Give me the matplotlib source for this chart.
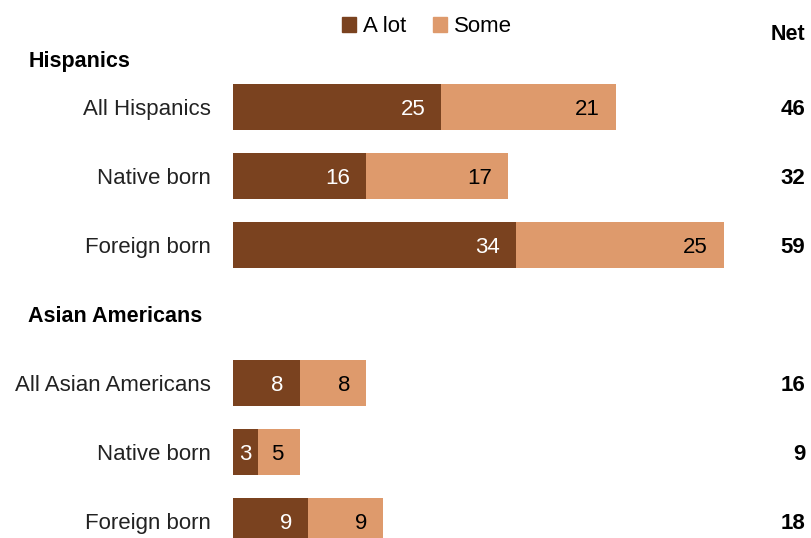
import matplotlib.pyplot as plt
from matplotlib.patches import Patch

plt.rcParams['font.family'] = ['Liberation Sans', 'DejaVu Sans']

# data
groups = ['Hispanics', 'Asian Americans']
labels = ['All Hispanics', 'Native born', 'Foreign born',
          'All Asian Americans', 'Native born', 'Foreign born']
a_lot = [25, 16, 34, 8, 3, 9]
some = [21, 17, 25, 8, 5, 9]
net = [46, 32, 59, 16, 9, 18]

dark = '#7A421F'
light = '#DE9A6C'

rows = [0, 1, 2, 4, 5, 6]
header_rows = [-0.70, 3.0]

fig = plt.figure(figsize=(8.11, 5.38), dpi=100)
ax = fig.add_axes([233 / 811, 0, 578 / 811, 1])
ax.set_xlim(0, 578 / 8.32)
ax.set_ylim(431 / 69, -107 / 69)
ax.axis('off')

h = 0.667
ax.barh(rows, a_lot, height=h, color=dark, edgecolor='none')
ax.barh(rows, some, left=a_lot, height=h, color=light, edgecolor='none')

for r, lab, a, s, n in zip(rows, labels, a_lot, some, net):
    ax.text(-2.6, r, lab, ha='right', va='center_baseline', fontsize=16, color='#222222')
    # values inside bars
    if a < 5:
        ax.text(a / 2, r, str(a), ha='center', va='center_baseline', fontsize=16, color='white')
    else:
        ax.text(a - 1.9, r, str(a), ha='right', va='center_baseline', fontsize=16, color='white')
    ax.text(a + s - 1.9, r, str(s), ha='right', va='center_baseline', fontsize=16, color='black')
    ax.text(68.8, r, str(n), ha='right', va='center_baseline', fontsize=16,
            fontweight='bold', color='black')

for g, r in zip(groups, header_rows):
    ax.text(-24.6, r, g, ha='left', va='center_baseline', fontsize=15.5, fontweight='bold')

ax.text(68.8, -1.09, 'Net', ha='right', va='center_baseline', fontsize=15.5, fontweight='bold')

handles = [Patch(color=dark, label='A lot'), Patch(color=light, label='Some')]
fig.legend(handles=handles, loc='center', bbox_to_anchor=(427 / 811, 1 - 27 / 538),
           ncol=2, frameon=False, fontsize=16, handlelength=0.65, handleheight=0.65,
           handletextpad=0.3, columnspacing=1.2)

fig.savefig('out.png', dpi=100)
